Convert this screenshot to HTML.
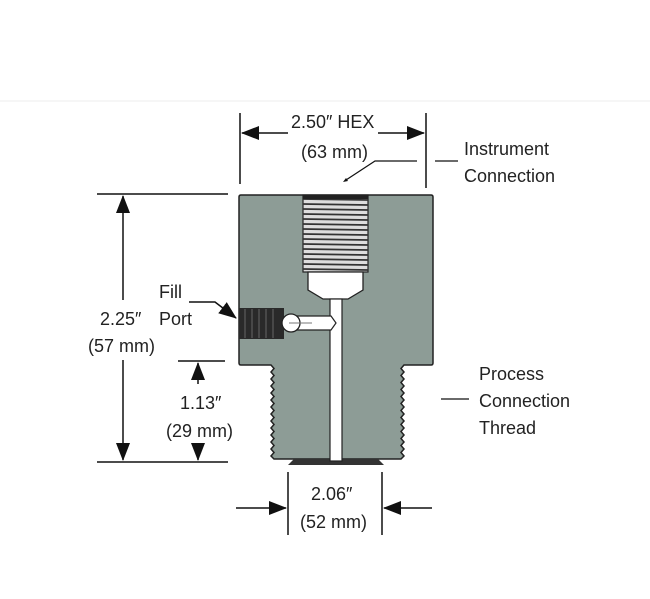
<!DOCTYPE html>
<html><head><style>
html,body{margin:0;padding:0;background:#fff;}
svg{display:block;}
text{font-family:"Liberation Sans",Arial,sans-serif;font-size:18px;fill:#222;}
</style></head><body>
<svg width="650" height="599" viewBox="0 0 650 599" xmlns="http://www.w3.org/2000/svg">
<defs>
<marker id="arb" markerWidth="18" markerHeight="14" refX="17" refY="7" orient="auto" markerUnits="userSpaceOnUse" viewBox="0 0 18 14">
<path d="M0,0 L18,7 L0,14 z" fill="#111"/></marker>
</defs>
<line x1="0" y1="101" x2="650" y2="101" stroke="#eee" stroke-width="1"/>

<path d="M241,195 H431 Q433,195 433,197 V363 Q433,365 431,365 H404
 l-3,3.5 l3,3.5 l-3,3.5 l3,3.5 l-3,3.5 l3,3.5 l-3,3.5 l3,3.5 l-3,3.5 l3,3.5 l-3,3.5 l3,3.5 l-3,3.5 l3,3.5 l-3,3.5 l3,3.5 l-3,3.5 l3,3.5 l-3,3.5 l3,3.5 l-3,3.5 l3,3.5 l-3,3.5 l3,3.5 l-3,3.5 l3,3.5 l-3,3
 H274
 l-3,-3 l3,-3.5 l-3,-3.5 l3,-3.5 l-3,-3.5 l3,-3.5 l-3,-3.5 l3,-3.5 l-3,-3.5 l3,-3.5 l-3,-3.5 l3,-3.5 l-3,-3.5 l3,-3.5 l-3,-3.5 l3,-3.5 l-3,-3.5 l3,-3.5 l-3,-3.5 l3,-3.5 l-3,-3.5 l3,-3.5 l-3,-3.5 l3,-3.5 l-3,-3.5 l3,-3.5 l-3,-3.5
 H241 Q239,365 239,363 V197 Q239,195 241,195 Z" fill="#8d9c96" stroke="#222" stroke-width="1.5"/>
<path d="M288,465 L294,459 H378 L384,465 Z" fill="#333"/>

<rect x="303" y="195" width="65" height="77" fill="#ddd" stroke="#222" stroke-width="1.2"/>
<g stroke="#333" stroke-width="1.8">
<line x1="303" y1="199" x2="368" y2="200"/><line x1="303" y1="204" x2="368" y2="205"/>
<line x1="303" y1="209" x2="368" y2="210"/><line x1="303" y1="214" x2="368" y2="215"/>
<line x1="303" y1="219" x2="368" y2="220"/><line x1="303" y1="224" x2="368" y2="225"/>
<line x1="303" y1="229" x2="368" y2="230"/><line x1="303" y1="234" x2="368" y2="235"/>
<line x1="303" y1="239" x2="368" y2="240"/><line x1="303" y1="244" x2="368" y2="245"/>
<line x1="303" y1="249" x2="368" y2="250"/><line x1="303" y1="254" x2="368" y2="255"/>
<line x1="303" y1="259" x2="368" y2="260"/><line x1="303" y1="264" x2="368" y2="265"/>
<line x1="303" y1="269" x2="368" y2="270"/>
</g>
<rect x="303" y="195" width="65" height="4" fill="#222"/>
<path d="M308,272 H363 V290 L348,299 H323 L308,290 Z" fill="#fff" stroke="#222" stroke-width="1.3"/>
<rect x="330" y="299" width="12" height="162" fill="#fff" stroke="#222" stroke-width="1.2"/>
<rect x="239" y="308" width="45" height="31" fill="#2a2a2a"/>
<g stroke="#666" stroke-width="1"><line x1="245" y1="309" x2="245" y2="338"/><line x1="252" y1="309" x2="252" y2="338"/><line x1="259" y1="309" x2="259" y2="338"/><line x1="266" y1="309" x2="266" y2="338"/><line x1="273" y1="309" x2="273" y2="338"/></g>
<path d="M290,316 H331 L336,323 L331,330 H290 Z" fill="#fff" stroke="#222" stroke-width="1.2"/>
<circle cx="291" cy="323" r="9" fill="#fff" stroke="#222" stroke-width="1.3"/>
<line x1="289" y1="323" x2="312" y2="323" stroke="#777" stroke-width="1"/>

<line x1="240" y1="113" x2="240" y2="184" stroke="#111" stroke-width="1.5"/>
<line x1="426" y1="113" x2="426" y2="188" stroke="#111" stroke-width="1.5"/>
<line x1="288" y1="133" x2="242" y2="133" stroke="#111" stroke-width="1.5" marker-end="url(#arb)"/>
<line x1="378" y1="133" x2="424" y2="133" stroke="#111" stroke-width="1.5" marker-end="url(#arb)"/>
<text x="291" y="128">2.50″ HEX</text>
<text x="301" y="158">(63 mm)</text>
<polyline points="417,161 375,161 346,180" fill="none" stroke="#111" stroke-width="1.2"/>
<path d="M343,182 l5,-1 l-2,-3 z" fill="#111"/>
<line x1="435" y1="161" x2="458" y2="161" stroke="#111" stroke-width="1.2"/>
<text x="464" y="155">Instrument</text>
<text x="464" y="182">Connection</text>

<line x1="97" y1="194" x2="228" y2="194" stroke="#111" stroke-width="1.5"/>
<line x1="97" y1="462" x2="228" y2="462" stroke="#111" stroke-width="1.5"/>
<line x1="123" y1="300" x2="123" y2="196" stroke="#111" stroke-width="1.5" marker-end="url(#arb)"/>
<line x1="123" y1="360" x2="123" y2="460" stroke="#111" stroke-width="1.5" marker-end="url(#arb)"/>
<text x="100" y="325">2.25″</text>
<text x="88" y="352">(57 mm)</text>
<line x1="178" y1="361" x2="225" y2="361" stroke="#111" stroke-width="1.5"/>
<line x1="198" y1="384" x2="198" y2="363" stroke="#111" stroke-width="1.5" marker-end="url(#arb)"/>
<line x1="198" y1="445" x2="198" y2="460" stroke="#111" stroke-width="1.5" marker-end="url(#arb)"/>
<text x="180" y="409">1.13″</text>
<text x="166" y="437">(29 mm)</text>
<text x="159" y="298">Fill</text>
<text x="159" y="325">Port</text>
<polyline points="189,302 215,302 236,318" fill="none" stroke="#111" stroke-width="1.5" marker-end="url(#arb)"/>

<line x1="441" y1="399" x2="469" y2="399" stroke="#111" stroke-width="1.2"/>
<text x="479" y="380">Process</text>
<text x="479" y="407">Connection</text>
<text x="479" y="434">Thread</text>

<line x1="288" y1="472" x2="288" y2="535" stroke="#111" stroke-width="1.5"/>
<line x1="382" y1="472" x2="382" y2="535" stroke="#111" stroke-width="1.5"/>
<line x1="236" y1="508" x2="286" y2="508" stroke="#111" stroke-width="1.5" marker-end="url(#arb)"/>
<line x1="432" y1="508" x2="384" y2="508" stroke="#111" stroke-width="1.5" marker-end="url(#arb)"/>
<text x="311" y="500">2.06″</text>
<text x="300" y="528">(52 mm)</text>
</svg>
</body></html>
